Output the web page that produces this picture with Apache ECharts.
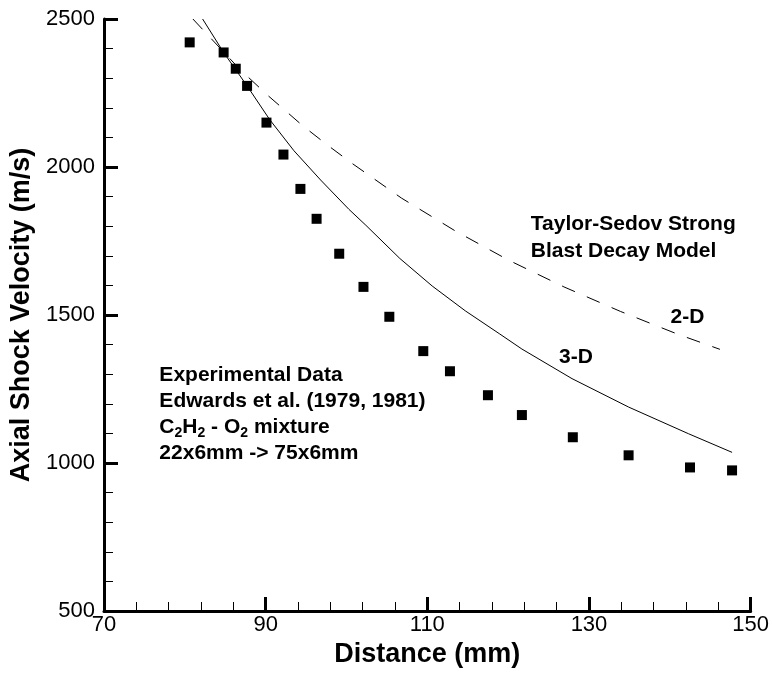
<!DOCTYPE html>
<html>
<head>
<meta charset="utf-8">
<script src="https://cdn.jsdelivr.net/npm/echarts@6/dist/echarts.min.js"></script>
<style>
  html, body { margin: 0; padding: 0; background: #ffffff; }
  #chart { width: 772px; height: 674px; }
</style>
</head>
<body>
<div id="chart"></div>
<script>
// Axis ticks
const xTicks = [70, 90, 110, 130, 150];
const yTicks = [500, 1000, 1500, 2000, 2500];

// Experimental data: Edwards et al. (1979, 1981)
const expDistance = [80.6, 84.8, 86.3, 87.7, 90.1, 92.2, 94.3, 96.3, 99.1, 102.1,
                     105.3, 109.5, 112.8, 117.5, 121.7, 128.0, 134.9, 142.5, 147.7];
const expVelocity = [2421, 2387, 2332, 2274, 2150, 2042, 1926, 1825, 1707, 1595,
                     1494, 1378, 1310, 1229, 1162, 1087, 1026, 985, 975];

// Taylor-Sedov strong blast decay, 3-D (spherical)
const model3dDistance = [82.2, 84.8, 87.7, 90.5, 93.5, 96.8, 100.3, 102.4, 106.6, 110.6,
                         114.7, 118.9, 121.7, 127.9, 134.9, 142.3, 147.7];
const model3dVelocity = [2500, 2387, 2274, 2160, 2055, 1956, 1857, 1803, 1691, 1598,
                         1514, 1437, 1385, 1285, 1189, 1099, 1036];

// Taylor-Sedov strong blast decay, 2-D (cylindrical)
const model2dDistance = [81.0, 86.8, 90.3, 94.6, 97.6, 100.7, 106.8, 113.4, 120.0,
                         126.9, 133.9, 140.9, 146.2];
const model2dVelocity = [2500, 2330, 2241, 2139, 2075, 2012, 1895, 1785, 1686,
                         1595, 1512, 1436, 1384];

const FONT = "'Liberation Sans', Arial, Helvetica, sans-serif";

function pairs(xs, ys) { return xs.map((x, i) => [x, ys[i]]); }

const chart = echarts.init(document.getElementById('chart'), null, { renderer: 'canvas' });

const axisCommon = {
  type: 'value',
  nameLocation: 'middle',
  nameTextStyle: { fontFamily: FONT, fontSize: 27, fontWeight: 'bold', color: '#000' },
  axisLine: { show: true, onZero: false, lineStyle: { color: '#000', width: 3 } },
  axisTick: { show: true, inside: true, length: 14, lineStyle: { color: '#000', width: 3 } },
  minorTick: { show: true, splitNumber: 5, length: 9, lineStyle: { color: '#000', width: 1 } },
  splitLine: { show: false },
  minorSplitLine: { show: false },
  axisLabel: {
    fontFamily: FONT, fontSize: 22, color: '#000',
    showMinLabel: true, showMaxLabel: true,
    formatter: (v) => String(v)
  }
};

chart.setOption({
  animation: false,
  backgroundColor: '#ffffff',
  grid: { left: 104, right: 20, top: 19, bottom: 63, containLabel: false },
  xAxis: Object.assign({}, axisCommon, {
    name: 'Distance (mm)',
    nameGap: 28,
    min: xTicks[0],
    max: xTicks[xTicks.length - 1],
    interval: xTicks[1] - xTicks[0],
    axisLabel: Object.assign({}, axisCommon.axisLabel, { margin: 3 })
  }),
  yAxis: Object.assign({}, axisCommon, {
    name: 'Axial Shock Velocity (m/s)',
    nameGap: 61,
    min: yTicks[0],
    max: yTicks[yTicks.length - 1],
    interval: yTicks[1] - yTicks[0],
    axisLabel: Object.assign({}, axisCommon.axisLabel, { margin: 9 })
  }),
  series: [
    {
      name: '3-D',
      type: 'line',
      data: pairs(model3dDistance, model3dVelocity),
      showSymbol: false,
      smooth: false,
      clip: true,
      lineStyle: { color: '#000', width: 1, type: 'solid' },
      z: 2
    },
    {
      name: '2-D',
      type: 'line',
      data: pairs(model2dDistance, model2dVelocity),
      showSymbol: false,
      smooth: false,
      clip: true,
      lineStyle: { color: '#000', width: 1, type: [14, 13] },
      z: 2
    },
    {
      name: 'Experimental Data',
      type: 'scatter',
      data: pairs(expDistance, expVelocity),
      symbol: 'rect',
      symbolSize: 10,
      itemStyle: { color: '#000', opacity: 1 },
      z: 3
    }
  ]
});

// Annotation texts anchored in data coordinates (left edge, vertical middle)
function textAt(dx, dy, text, extra) {
  const p = chart.convertToPixel({ gridIndex: 0 }, [dx, dy]);
  return {
    type: 'text',
    x: p[0],
    y: p[1],
    silent: true,
    z: 10,
    style: Object.assign({
      text: text,
      fill: '#000',
      fontFamily: FONT,
      fontSize: 21,
      fontWeight: 'bold',
      align: 'left',
      textAlign: 'left',
      verticalAlign: 'middle',
      textVerticalAlign: 'middle'
    }, extra || {})
  };
}

const subRich = {
  n: { fontFamily: FONT, fontSize: 21, fontWeight: 'bold', lineHeight: 26, fill: '#000', color: '#000' },
  s: { fontFamily: FONT, fontSize: 14, fontWeight: 'bold', lineHeight: 8, verticalAlign: 'bottom', fill: '#000', color: '#000' }
};

chart.setOption({
  graphic: [
    textAt(122.8, 1808, 'Taylor-Sedov Strong'),
    textAt(122.8, 1715, 'Blast Decay Model'),
    textAt(140.1, 1492, '2-D'),
    textAt(126.3, 1359, '3-D'),
    textAt(76.85, 1297, 'Experimental Data'),
    textAt(76.85, 1210, 'Edwards et al. (1979, 1981)'),
    textAt(76.85, 1120, '{n|C}{s|2}{n|H}{s|2}{n| - O}{s|2}{n| mixture}', { rich: subRich }),
    textAt(76.85, 1032, '22x6mm -> 75x6mm')
  ]
});
</script>
</body>
</html>
